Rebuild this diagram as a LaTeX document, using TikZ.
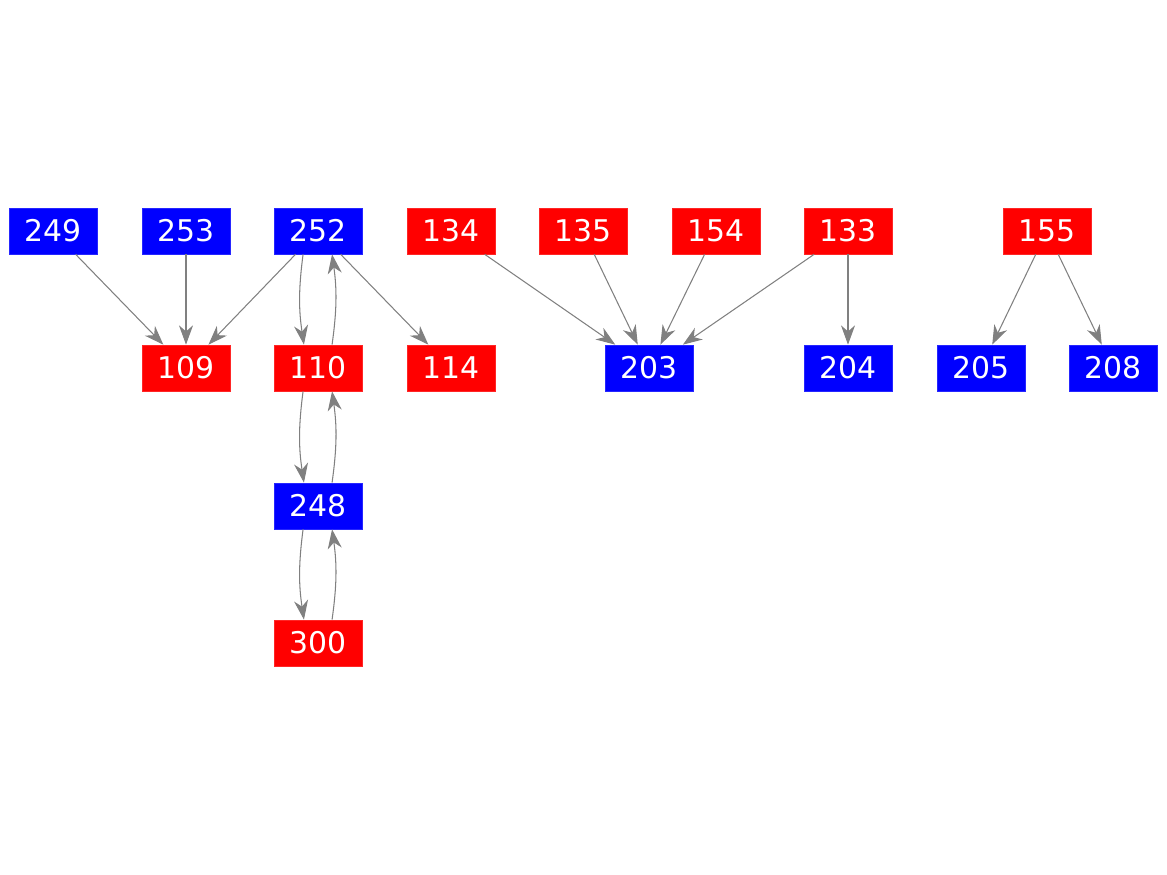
\documentclass[tikz,border=0pt]{standalone}
\usepackage{fontspec}
\setmainfont{DejaVu Sans}
\usetikzlibrary{arrows.meta}
\tikzset{%
  vbox/.style  = {shape=rectangle, inner sep=0pt,%
                  minimum width=1.76cm, minimum height=0.92cm,%
                  text=white, font=\fontsize{17}{20}\selectfont},%
  bluebox/.style = {vbox, fill=blue, draw=blue!85!white},%
  redbox/.style  = {vbox, fill=red, draw=red!85!white},%
  conn/.style    = {draw=gray, line width=0.6pt,%
                    -{Stealth[length=11pt, width=8pt, inset=3.5pt]}}%
}

\begin{document}
\begin{tikzpicture}
              [x=0.02cm, y=-0.02cm]
              \useasboundingbox (0,0) rectangle (1167,875);
              % top row
              \node[bluebox] (n249) at (53,231)   {249};
              \node[bluebox] (n253) at (186,231)  {253};
              \node[bluebox] (n252) at (318,231)  {252};
              \node[redbox]  (n134) at (451,231)  {134};
              \node[redbox]  (n135) at (583,231)  {135};
              \node[redbox]  (n154) at (716,231)  {154};
              \node[redbox]  (n133) at (848,231)  {133};
              \node[redbox]  (n155) at (1047,231) {155};
              % second row
              \node[redbox]  (n109) at (186,368)  {109};
              \node[redbox]  (n110) at (318,368)  {110};
              \node[redbox]  (n114) at (451,368)  {114};
              \node[bluebox] (n203) at (649,368)  {203};
              \node[bluebox] (n204) at (848,368)  {204};
              \node[bluebox] (n205) at (981,368)  {205};
              \node[bluebox] (n208) at (1113,368) {208};
              % chain below 110
              \node[bluebox] (n248) at (318,506)  {248};
              \node[redbox]  (n300) at (318,643)  {300};

              \draw[conn] (n249) -- (n109);
              \draw[conn] (n253) -- (n109);
              \draw[conn] (n252) -- (n109);
              \draw[conn] (n252) -- (n114);
              \draw[conn] ([xshift=-8.5pt]n252.south) to[bend right=8] ([xshift=-8pt]n110.north);
              \draw[conn] ([xshift=8pt]n110.north) to[bend right=8] ([xshift=8pt]n252.south);
              \draw[conn] ([xshift=-8.5pt]n110.south) to[bend right=8] ([xshift=-8pt]n248.north);
              \draw[conn] ([xshift=8pt]n248.north) to[bend right=8] ([xshift=8pt]n110.south);
              \draw[conn] ([xshift=-8.5pt]n248.south) to[bend right=8] ([xshift=-8pt]n300.north);
              \draw[conn] ([xshift=8pt]n300.north) to[bend right=8] ([xshift=8pt]n248.south);
              \draw[conn] (n134) -- (n203);
              \draw[conn] (n135) -- (n203);
              \draw[conn] (n154) -- (n203);
              \draw[conn] (n133) -- (n203);
              \draw[conn] (n133) -- (n204);
              \draw[conn] (n155) -- (n205);
              \draw[conn] (n155) -- (n208);
\end{tikzpicture}
\end{document}
